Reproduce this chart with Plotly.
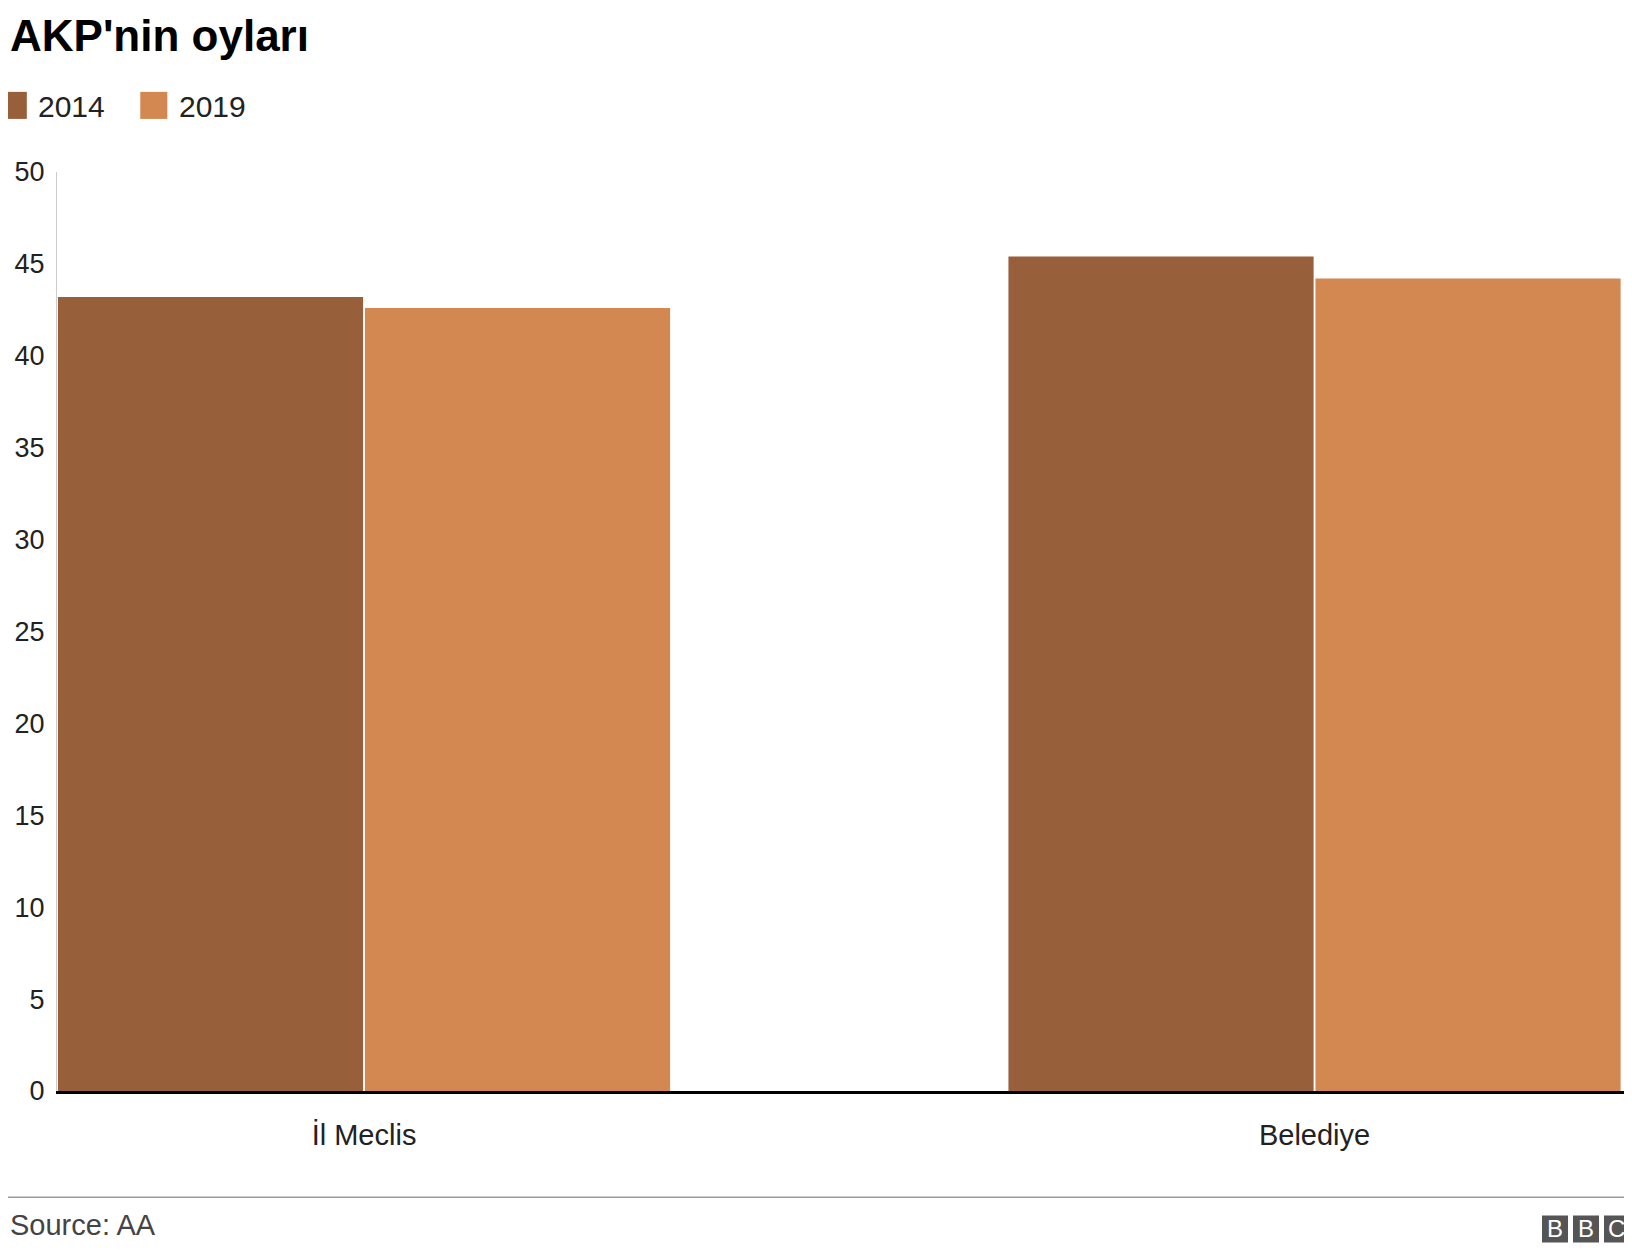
import plotly.graph_objects as go

categories = ["İl Meclis", "Belediye"]
years = ["2014", "2019"]
v2014 = [43.2, 45.4]
v2019 = [42.6, 44.2]
colors = ["#97603a", "#d38852"]

W, H = 1632, 1252
S = 0.961
def A(v):
    return v / S - 8
L = A(55); T = A(165); B = H - A(1048); R = 8
PW = W - L - R; PH = H - T - B
def xp(X): return (A(X) - L) / PW
def yp(Y): return 1 - (A(Y) - T) / PH
def fx(x): return (x - L) / PW          # figure pixel -> paper
def fy(y): return 1 - (y - T) / PH

fig = go.Figure()
for name, vals, c in zip(years, [v2014, v2019], colors):
    fig.add_bar(x=[0, 1], y=vals, name=name, marker_color=c, marker_line_width=0,
                showlegend=False)

F = "Liberation Sans, Arial, sans-serif"
fig.update_layout(
    width=W, height=H, plot_bgcolor="white", paper_bgcolor="white",
    margin=dict(l=L, r=R, t=T, b=B, autoexpand=False),
    barmode="group", bargap=0.354, bargroupgap=0.006,
    font=dict(family=F, color="#222", size=28),
    yaxis=dict(range=[0, 50], dtick=5, showgrid=False, zeroline=False, automargin=False,
               showline=True, linecolor="#ccc", linewidth=1, ticks="", ticklabelstandoff=6,
               tickfont=dict(size=27, color="#222")),
    xaxis=dict(range=[-0.323, 1.334], tickvals=[0, 1], ticktext=categories, automargin=False,
               showline=True, linecolor="#000", linewidth=3, ticks="",
               tickfont=dict(size=29, color="#222"), ticklabelstandoff=16),
)
fig.add_annotation(text="<b>AKP'nin oyları</b>", xref="paper", yref="paper", x=fx(0), xanchor="left",
                   y=yp(34), yanchor="middle", showarrow=False, font=dict(size=44, color="#000"))
lx = [0, 135]
for i, (name, c) in enumerate(zip(years, colors)):
    x0 = max(A(lx[i]), 0)
    fig.add_shape(type="rect", xref="paper", yref="paper", x0=fx(x0), x1=fx(A(lx[i] + 26)),
                  y0=yp(88), y1=yp(114), fillcolor=c, line_width=0)
    fig.add_annotation(text=name, xref="paper", yref="paper", x=xp(lx[i] + 35), xanchor="left",
                       y=yp(102), yanchor="middle", showarrow=False, font=dict(size=30, color="#222"))
fig.add_shape(type="line", xref="paper", yref="paper", x0=fx(0), x1=1 + R / PW, y0=yp(1150), y1=yp(1150),
              line=dict(color="#999", width=1.5))
fig.add_annotation(text="Source: AA", xref="paper", yref="paper", x=fx(0), xanchor="left",
                   y=yp(1177), yanchor="middle", showarrow=False, font=dict(size=29, color="#444"))
for i, ch in enumerate("BBC"):
    x0 = 1534 + i * 31
    fig.add_shape(type="rect", xref="paper", yref="paper", x0=fx(x0), x1=fx(x0 + 26),
                  y0=fy(1207), y1=fy(1234), fillcolor="#555", line_width=0)
    fig.add_annotation(text=ch, xref="paper", yref="paper", x=fx(x0 + 13), xanchor="center",
                       y=fy(1220.5), yanchor="middle", showarrow=False,
                       font=dict(size=24, color="white"))

fig.write_html("out.html")
